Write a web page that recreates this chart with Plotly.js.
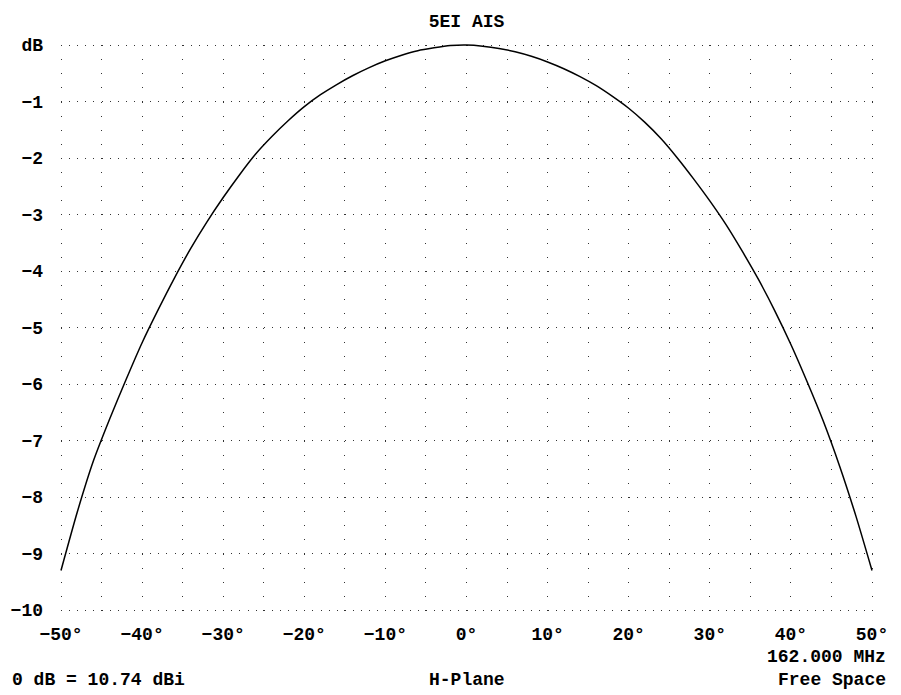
<!DOCTYPE html>
<html>
<head>
<meta charset="utf-8">
<script src="https://cdn.plot.ly/plotly-3.0.1.min.js"></script>
<style>
  html, body { margin: 0; padding: 0; background: #fff; }
  #chart { width: 901px; height: 695px; }
</style>
</head>
<body>
<div id="chart"></div>
<script>
// Azimuth angle (degrees) and relative gain (dB)
const angles = [-50,-48,-46,-44,-42,-40,-38,-36,-34,-32,-30,-28,-26,-24,-22,-20,-18,-16,-14,-12,-10,-8,-6,-4,-2,0,
                2,4,6,8,10,12,14,16,18,20,22,24,26,28,30,32,34,36,38,40,42,44,46,48,50];
const gainDb = [-9.30,-8.27,-7.36,-6.62,-5.93,-5.27,-4.68,-4.12,-3.60,-3.13,-2.70,-2.30,-1.93,-1.62,-1.34,-1.09,-0.88,-0.70,-0.54,-0.40,-0.28,-0.18,-0.10,-0.05,-0.01,0.00,
                -0.02,-0.06,-0.12,-0.20,-0.30,-0.42,-0.56,-0.72,-0.91,-1.12,-1.37,-1.66,-2.00,-2.37,-2.76,-3.18,-3.65,-4.15,-4.70,-5.30,-5.96,-6.66,-7.45,-8.33,-9.30];

const xTickVals = [-50,-40,-30,-20,-10,0,10,20,30,40,50];
const xTickText = ["\u221250\u00b0","\u221240\u00b0","\u221230\u00b0","\u221220\u00b0","\u221210\u00b0","0\u00b0","10\u00b0","20\u00b0","30\u00b0","40\u00b0","50\u00b0"];
const yTickVals = [0,-1,-2,-3,-4,-5,-6,-7,-8,-9,-10];
const yTickText = ["dB","\u22121","\u22122","\u22123","\u22124","\u22125","\u22126","\u22127","\u22128","\u22129","\u221210"];

const chartTitle = "5EI AIS";
const refText = "0 dB = 10.74 dBi";
const planeText = "H-Plane";
const freqText = "162.000 MHz";
const envText = "Free Space";

const FONT = '"Liberation Mono", "DejaVu Sans Mono", monospace';
const txt = {family: FONT, size: 18, color: '#000', weight: 'bold'};

// 2px of padding beyond the nominal ranges so that edge grid lines are drawn
const XPAD = 2 / 8.11, YPAD = 2 / 56.5;

const trace = {
  x: angles, y: gainDb, type: 'scatter', mode: 'lines',
  line: {color: '#000', width: 1.5, shape: 'spline', smoothing: 0.6}, hoverinfo: 'skip'
};

const xDash = '0px,2px,1px,11.125px';
const yDash = '0px,2px,1px,5.11px';

const layout = {
  width: 901, height: 695,
  margin: {l: 59, r: 27, t: 43, b: 83},
  paper_bgcolor: '#fff', plot_bgcolor: '#fff',
  showlegend: false,
  font: txt,
  title: {text: chartTitle, font: txt, x: 0.5178, xanchor: 'center', y: 0.9698, yanchor: 'middle'},
  xaxis: {
    range: [-50 - XPAD, 50 + XPAD], tickvals: xTickVals, ticktext: xTickText,
    showgrid: true, gridcolor: '#333', gridwidth: 1, griddash: xDash,
    minor: {dtick: 5, tick0: 0, showgrid: true, gridcolor: '#333', gridwidth: 1, griddash: xDash},
    zeroline: false, showline: false, ticks: '', ticklabelstandoff: 9,
    tickfont: txt, fixedrange: true
  },
  yaxis: {
    range: [-10 - YPAD, 0 + YPAD], tickvals: yTickVals, ticktext: yTickText,
    showgrid: true, gridcolor: '#333', gridwidth: 1, griddash: yDash,
    zeroline: false, showline: false, ticks: '', ticklabelstandoff: 15,
    tickfont: txt, fixedrange: true
  },
  annotations: [
    {text: refText, xref: 'paper', yref: 'paper', x: -0.0601, y: -0.1195, xanchor: 'left', yanchor: 'middle', showarrow: false, font: txt},
    {text: planeText, xref: 'paper', yref: 'paper', x: 0.5, y: -0.1195, xanchor: 'center', yanchor: 'middle', showarrow: false, font: txt},
    {text: freqText, xref: 'paper', yref: 'paper', x: 1.0172, y: -0.0791, xanchor: 'right', yanchor: 'middle', showarrow: false, font: txt},
    {text: envText, xref: 'paper', yref: 'paper', x: 1.0172, y: -0.1195, xanchor: 'right', yanchor: 'middle', showarrow: false, font: txt}
  ]
};

Plotly.newPlot('chart', [trace], layout, {displayModeBar: false, staticPlot: true});
</script>
</body>
</html>
